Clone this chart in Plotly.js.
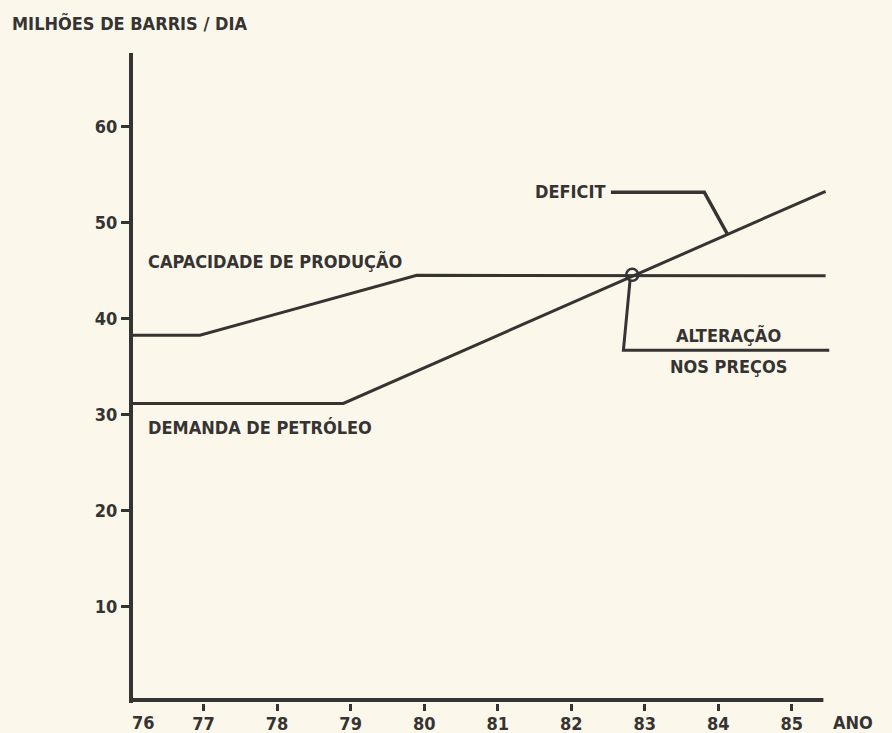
<!DOCTYPE html>
<html>
<head>
<meta charset="utf-8">
<script src="https://cdn.plot.ly/plotly-3.0.1.min.js"></script>
<style>html,body{margin:0;padding:0;background:#fbf7ea;}</style>
</head>
<body>
<div id="chart" style="width:892px;height:733px;"></div>
<script>
// Data (years, millions of barrels per day)
const capacidadeYears = [76, 76.95, 79.9, 85.46];
const capacidadeValues = [38.3, 38.3, 44.55, 44.5];
const demandaYears = [76, 78.9, 85.46];
const demandaValues = [31.2, 31.2, 53.3];
const intersecYear = [82.83];
const intersecValue = [44.6];
const alteracaoYears = [82.8, 82.71, 85.51];
const alteracaoValues = [44.0, 36.75, 36.75];
const deficitYears = [82.54, 83.81, 84.12];
const deficitValues = [53.2, 53.2, 48.9];
const xTickVals = [77, 78, 79, 80, 81, 82, 83, 84, 85];
const xTickText = ['77', '78', '79', '80', '81', '82', '83', '84', '85'];
const yTickVals = [10, 20, 30, 40, 50, 60];
const yTickText = ['10', '20', '30', '40', '50', '60'];

const ink = '#363333';
const bg = '#fbf7ea';
const fnt = {family: 'DejaVu Sans Condensed, DejaVu Sans, sans-serif', size: 18, color: ink, weight: 700};

const lineStyle = {color: ink, width: 3};
const traces = [
  {x: capacidadeYears, y: capacidadeValues, mode: 'lines', line: lineStyle, hoverinfo: 'skip'},
  {x: demandaYears, y: demandaValues, mode: 'lines', line: lineStyle, hoverinfo: 'skip'},
  {x: alteracaoYears, y: alteracaoValues, mode: 'lines', line: lineStyle, hoverinfo: 'skip'},
  {x: deficitYears, y: deficitValues, mode: 'lines', line: {color: ink, width: 3.5}, hoverinfo: 'skip'},
  {x: intersecYear, y: intersecValue, mode: 'markers', marker: {symbol: 'circle-open', size: 12, color: ink, line: {width: 2.5, color: ink}}, hoverinfo: 'skip'}
];

const ann = (text, x, y, xanchor) => ({text, x, y, xref: 'x', yref: 'y', showarrow: false, xanchor: xanchor, yanchor: 'middle', font: fnt});

const layout = {
  width: 892, height: 733,
  paper_bgcolor: bg, plot_bgcolor: bg,
  showlegend: false,
  margin: {l: 133, r: 62, t: 53, b: 30, pad: 0},
  title: {text: 'MILHÕES DE BARRIS / DIA', x: 12/892, xanchor: 'left', xref: 'container', y: 1 - 24/733, yref: 'container', yanchor: 'middle', font: fnt},
  xaxis: {
    range: [76.04, 85.52], showgrid: false, zeroline: false, showline: false,
    tickmode: 'array', tickvals: xTickVals, ticktext: xTickText,
    ticks: 'outside', ticklen: 7, tickwidth: 3, tickcolor: ink,
    ticklabelstandoff: -3,
    tickfont: fnt, fixedrange: true
  },
  yaxis: {
    range: [0, 67.7], showgrid: false, zeroline: false, showline: true, linewidth: 4, linecolor: ink,
    tickmode: 'array', tickvals: yTickVals, ticktext: yTickText,
    ticks: 'outside', ticklen: 8, tickwidth: 3, tickcolor: ink,
    tickfont: fnt, fixedrange: true
  },
  shapes: [
    {type: 'line', xref: 'x', yref: 'y', x0: 76.04, x1: 85.43, y0: 0.3, y1: 0.3, line: {color: ink, width: 4}}
  ],
  annotations: [
    ann('CAPACIDADE DE PRODUÇÃO', 76.22, 46.0, 'left'),
    ann('DEMANDA DE PETRÓLEO', 76.22, 28.7, 'left'),
    ann('DEFICIT', 81.48, 53.3, 'left'),
    ann('ALTERAÇÃO', 84.14, 38.3, 'center'),
    ann('NOS PREÇOS', 84.14, 35.1, 'center'),
    {text: '76', x: 76.18, xref: 'x', y: 0, yref: 'paper', yanchor: 'top', yshift: -7, showarrow: false, font: fnt},
    {text: 'ANO', x: (875 - 133) / 697, xref: 'paper', y: 0, yref: 'paper', yanchor: 'top', yshift: -7, showarrow: false, font: fnt}
  ]
};

Plotly.newPlot('chart', traces, layout, {displayModeBar: false, staticPlot: true});
</script>
</body>
</html>
